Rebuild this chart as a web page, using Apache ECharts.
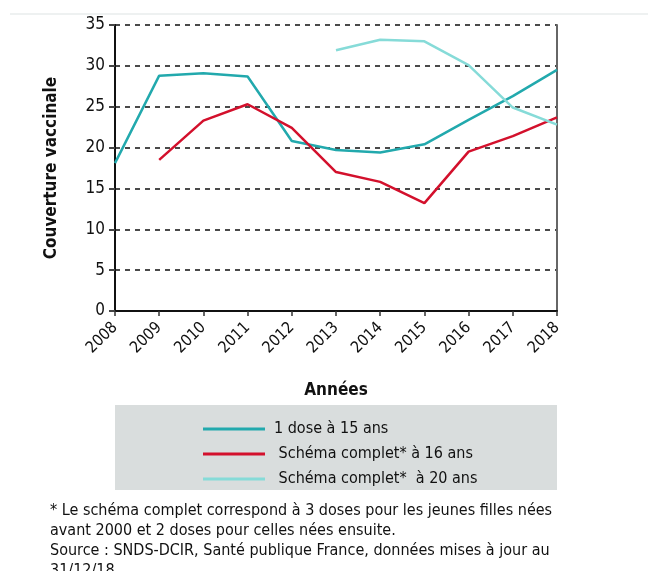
<!DOCTYPE html>
<html>
<head>
<meta charset="utf-8">
<script src="https://cdn.jsdelivr.net/npm/echarts@6/dist/echarts.min.js"></script>
<style>
  html, body { margin: 0; padding: 0; background: #fff; }
  #chart { width: 648px; height: 571px; }
</style>
</head>
<body>
<div id="chart"></div>
<script>
  // années
  var annees = ['2008', '2009', '2010', '2011', '2012', '2013', '2014', '2015', '2016', '2017', '2018'];
  // couverture vaccinale (%)
  var dose15 = [18.1, 28.8, 29.1, 28.7, 20.8, 19.7, 19.4, 20.4, 23.4, 26.3, 29.5];
  var complet16 = [null, 18.5, 23.3, 25.3, 22.4, 17.0, 15.8, 13.2, 19.5, 21.4, 23.7];
  var complet20 = [null, null, null, null, null, 31.9, 33.2, 33.0, 30.1, 24.9, 22.8];
  var noms = ['1 dose à 15 ans', ' Schéma complet* à 16 ans', ' Schéma complet*  à 20 ans'];

  var police = "'Liberation Sans Narrow', 'DejaVu Sans Condensed', 'Arial Narrow', sans-serif";

  var chart = echarts.init(document.getElementById('chart'));
  chart.setOption({
    animation: false,
    textStyle: { fontFamily: police },
    grid: { left: 115, right: 91, top: 25, bottom: 260 },
    //fond gris de la légende + note en bas
    graphic: [
      { type: 'line', shape: { x1: 10, y1: 14, x2: 648, y2: 14 }, style: { stroke: '#eef1f1', lineWidth: 2 } },
      { type: 'rect', shape: { x: 115, y: 405, width: 442, height: 85 }, style: { fill: '#d9dddd' }, z: 0 },
      {
        type: 'text', left: 50, top: 501,
        style: {
          text: '* Le schéma complet correspond à 3 doses pour les jeunes filles nées\navant 2000 et 2 doses pour celles nées ensuite.\nSource : SNDS-DCIR, Santé publique France, données mises à jour au\n31/12/18',
          font: '16px ' + police, fill: '#111', lineHeight: 20
        }
      }
    ],
    legend: {
      orient: 'vertical',
      left: 198, top: 416,
      itemWidth: 62, itemHeight: 3,
      itemGap: 9,
      icon: 'rect',
      data: noms,
      textStyle: { fontSize: 16, color: '#111', fontFamily: police, padding: [0, 0, 0, 4] }
    },
    xAxis: {
      type: 'category',
      data: annees,
      boundaryGap: false,
      name: 'Années',
      nameLocation: 'middle',
      nameGap: 71,
      nameTextStyle: { fontSize: 17, fontWeight: 'bold', color: '#111' },
      axisLine: { lineStyle: { color: '#111', width: 2 } },
      axisTick: { show: true, alignWithLabel: true, length: 5, lineStyle: { color: '#333', width: 1.5 } },
      axisLabel: { rotate: 45, fontSize: 16, color: '#111', margin: 14, interval: 0 },
      splitLine: { show: false }
    },
    yAxis: [
      {
        type: 'value',
        min: 0, max: 35, interval: 5,
        name: 'Couverture vaccinale',
        nameLocation: 'middle',
        nameGap: 55,
        nameTextStyle: { fontSize: 17, fontWeight: 'bold', color: '#111' },
        axisLine: { show: true, lineStyle: { color: '#111', width: 2 } },
        axisTick: { show: true, length: 6, lineStyle: { color: '#444', width: 2 } },
        axisLabel: { fontSize: 17, color: '#111', margin: 10 },
        splitLine: { show: true, lineStyle: { color: '#4a4a4a', width: 2, type: [5, 5] } }
      },
      {
        type: 'value',
        position: 'right',
        min: 0, max: 35, interval: 5,
        axisLine: { show: true, lineStyle: { color: '#666', width: 2 } },
        axisTick: { show: false },
        axisLabel: { show: false },
        splitLine: { show: false }
      }
    ],
    series: [
      { name: noms[0], type: 'line', data: dose15, symbol: 'none', lineStyle: { width: 2.5, color: '#22a9ad' }, itemStyle: { color: '#22a9ad' } },
      { name: noms[1], type: 'line', data: complet16, symbol: 'none', lineStyle: { width: 2.5, color: '#d3102c' }, itemStyle: { color: '#d3102c' } },
      { name: noms[2], type: 'line', data: complet20, symbol: 'none', lineStyle: { width: 2.5, color: '#86dbd8' }, itemStyle: { color: '#86dbd8' } }
    ]
  });
</script>
</body>
</html>
